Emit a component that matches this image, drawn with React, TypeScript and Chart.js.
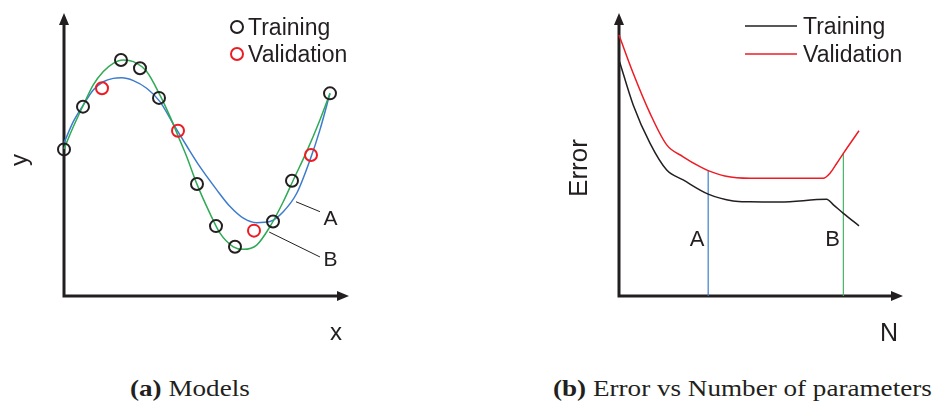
import React, { useEffect, useRef } from "react";
import { Chart, registerables } from "chart.js";

Chart.register(...registerables);

// ---------- (a) Models ----------
const trainX = [0, 1, 3, 4, 5, 7, 8, 9, 11, 12, 14];
const trainY = [5.18, 6.69, 8.34, 8.05, 7.0, 3.96, 2.47, 1.74, 2.63, 4.07, 7.16];
const validX = [2, 6, 10, 13];
const validY = [7.34, 5.84, 2.31, 4.98];

// smooth model A (blue)
const modelAX = [0, 0.49, 1.02, 1.54, 2.07, 2.59, 3.04, 3.65, 4.35, 5.05, 5.75, 6.46, 7.16, 8.04, 8.74, 9.44, 10.14, 10.84, 11.54, 12.25, 12.95, 13.47, 14];
const modelAY = [5.41, 6.16, 6.75, 7.28, 7.57, 7.69, 7.71, 7.61, 7.34, 6.87, 6.08, 5.3, 4.56, 3.75, 3.16, 2.75, 2.59, 2.63, 2.98, 3.63, 4.81, 5.87, 7.16];

// flexible model B (green)
const modelBX = [0, 0.49, 1.02, 1.54, 2.07, 2.59, 3.12, 3.65, 4.35, 5.05, 5.58, 6.02, 6.46, 6.98, 7.68, 8.21, 8.91, 9.44, 10.14, 10.84, 11.54, 12.07, 12.77, 13.47, 14];
const modelBY = [5.2, 5.98, 6.75, 7.46, 7.93, 8.22, 8.34, 8.28, 7.93, 7.1, 6.34, 5.63, 4.92, 3.98, 2.92, 2.22, 1.74, 1.65, 1.8, 2.45, 3.33, 4.1, 5.1, 6.22, 7.16];

// call-out lines and their letters: [fromX, fromY, toX, toY], label [x, y]
const calloutA = [12.21, 3.33, 13.47, 2.98];
const calloutB = [10.8, 2.26, 13.47, 1.38];
const calloutLabelA = [14.02, 2.77];
const calloutLabelB = [14.02, 1.31];

// ---------- (b) Error vs number of parameters ----------
const valErrX = [0, 0.5, 1.09, 1.68, 2.26, 2.85, 3.14, 3.73, 4.61, 5.67, 7.19, 7.43, 7.67, 7.9, 8.45];
const valErrY = [9.22, 7.87, 6.46, 5.34, 4.92, 4.57, 4.43, 4.24, 4.16, 4.16, 4.16, 4.34, 4.69, 5.04, 5.84];
const trnErrX = [0.02, 0.5, 1.09, 1.68, 2.26, 3.14, 4.02, 4.61, 5.67, 7.31, 7.55, 7.9, 8.45];
const trnErrY = [8.28, 6.75, 5.4, 4.45, 4.1, 3.6, 3.36, 3.33, 3.32, 3.42, 3.22, 2.92, 2.48];

// vertical markers where models A and B sit on the validation curve
const markerX = [3.14, 7.9];
const markerTop = [4.43, 5.04];
const markerNames = ["A", "B"];
const markerLabelY = 2.05;
const markerLabelDX = [-0.39, -0.38];

const INK = "#231f20";
const RED = "#ed1c24";
const BLUE = "#3d7ccc";
const GREEN = "#2faa55";
const SANS = "'Liberation Sans', Arial, sans-serif";

const pts = (xs: number[], ys: number[]) => xs.map((x, i) => ({ x, y: ys[i] }));

function drawAxes(ctx: CanvasRenderingContext2D, a: { left: number; right: number; top: number; bottom: number }) {
  const head = 12;
  const half = 5;
  ctx.save();
  ctx.strokeStyle = INK;
  ctx.fillStyle = INK;
  ctx.lineWidth = 3;
  ctx.beginPath();
  ctx.moveTo(a.left, a.bottom + 1.5);
  ctx.lineTo(a.left, a.top + head - 1);
  ctx.moveTo(a.left - 1.5, a.bottom);
  ctx.lineTo(a.right - head + 1, a.bottom);
  ctx.stroke();
  ctx.beginPath();
  ctx.moveTo(a.left, a.top);
  ctx.lineTo(a.left - half, a.top + head);
  ctx.lineTo(a.left + half, a.top + head);
  ctx.closePath();
  ctx.moveTo(a.right, a.bottom);
  ctx.lineTo(a.right - head, a.bottom - half);
  ctx.lineTo(a.right - head, a.bottom + half);
  ctx.closePath();
  ctx.fill();
  ctx.restore();
}

// writes text so that the middle of its capitals (or x-height) sits on y
function capText(ctx: CanvasRenderingContext2D, text: string, x: number, y: number, size: number, align: CanvasTextAlign, mid = 0.358) {
  ctx.save();
  ctx.font = `${size}px ${SANS}`;
  ctx.fillStyle = INK;
  ctx.textAlign = align;
  ctx.textBaseline = "alphabetic";
  ctx.fillText(text, x, y + mid * size);
  ctx.restore();
}

function rotText(ctx: CanvasRenderingContext2D, text: string, x: number, y: number, size: number, mid: number) {
  ctx.save();
  ctx.translate(x, y);
  ctx.rotate(-Math.PI / 2);
  ctx.font = `${size}px ${SANS}`;
  ctx.fillStyle = INK;
  ctx.textAlign = "center";
  ctx.textBaseline = "alphabetic";
  ctx.fillText(text, 0, mid * size);
  ctx.restore();
}

const panelADecor = {
  id: "panelADecor",
  beforeDatasetsDraw(chart: any) {
    drawAxes(chart.ctx, chart.chartArea);
  },
  afterDatasetsDraw(chart: any) {
    const ctx: CanvasRenderingContext2D = chart.ctx;
    const a = chart.chartArea;
    const sx = chart.scales.x;
    const sy = chart.scales.y;
    const px = (v: number) => sx.getPixelForValue(v);
    const py = (v: number) => sy.getPixelForValue(v);

    // call-outs
    ctx.save();
    ctx.strokeStyle = INK;
    ctx.lineWidth = 1;
    for (const c of [calloutA, calloutB]) {
      ctx.beginPath();
      ctx.moveTo(px(c[0]), py(c[1]));
      ctx.lineTo(px(c[2]), py(c[3]));
      ctx.stroke();
    }
    ctx.restore();
    capText(ctx, "A", px(calloutLabelA[0]), py(calloutLabelA[1]), 21, "center");
    capText(ctx, "B", px(calloutLabelB[0]), py(calloutLabelB[1]), 21, "center");

    // axis names
    rotText(ctx, "y", a.left - 41, 160, 24, 0.155);
    capText(ctx, "x", a.right - 13, 334, 24, "center", 0.26);

    // legend
    const lx = a.right - 112;
    const rows = [
      { y: a.top + 14, c: INK, t: "Training" },
      { y: a.top + 41, c: RED, t: "Validation" },
    ];
    for (const r of rows) {
      ctx.save();
      ctx.strokeStyle = r.c;
      ctx.lineWidth = 2;
      ctx.beginPath();
      ctx.arc(lx, r.y, 6, 0, Math.PI * 2);
      ctx.stroke();
      ctx.restore();
      capText(ctx, r.t, lx + 11, r.y, 23, "left");
    }
  },
};

const panelBDecor = {
  id: "panelBDecor",
  beforeDatasetsDraw(chart: any) {
    drawAxes(chart.ctx, chart.chartArea);
  },
  afterDatasetsDraw(chart: any) {
    const ctx: CanvasRenderingContext2D = chart.ctx;
    const a = chart.chartArea;
    const sx = chart.scales.x;
    const sy = chart.scales.y;

    markerNames.forEach((n, i) => {
      capText(ctx, n, sx.getPixelForValue(markerX[i] + markerLabelDX[i]), sy.getPixelForValue(markerLabelY), 22, "center");
    });

    rotText(ctx, "Error", a.left - 41, 168, 26, 0.358);
    capText(ctx, "N", a.right - 14, 332, 25, "center");

    const rows = [
      { y: a.top + 13, c: INK, t: "Training" },
      { y: a.top + 41, c: RED, t: "Validation" },
    ];
    for (const r of rows) {
      ctx.save();
      ctx.strokeStyle = r.c;
      ctx.lineWidth = 1.5;
      ctx.beginPath();
      ctx.moveTo(a.right - 158, r.y);
      ctx.lineTo(a.right - 106, r.y);
      ctx.stroke();
      ctx.restore();
      capText(ctx, r.t, a.right - 100, r.y, 23, "left");
    }
  },
};

const hiddenScales = (xMax: number) => ({
  x: { type: "linear" as const, min: 0, max: xMax, display: false },
  y: { type: "linear" as const, min: 0, max: 10, display: false },
});

const curve = (data: { x: number; y: number }[], color: string, width = 1.5) => ({
  data,
  showLine: true,
  borderColor: color,
  borderWidth: width,
  pointRadius: 0,
  cubicInterpolationMode: "monotone" as const,
  fill: false,
  clip: false as const,
});

const circles = (data: { x: number; y: number }[], color: string) => ({
  data,
  showLine: false,
  pointStyle: "circle" as const,
  pointRadius: 6,
  pointBorderWidth: 2,
  pointBorderColor: color,
  pointBackgroundColor: "rgba(0,0,0,0)",
  clip: false as const,
});

function makeModels(canvas: HTMLCanvasElement) {
  return new Chart(canvas, {
    type: "scatter",
    data: {
      datasets: [
        circles(pts(trainX, trainY), INK),
        circles(pts(validX, validY), RED),
        curve(pts(modelBX, modelBY), GREEN),
        curve(pts(modelAX, modelAY), BLUE),
      ] as any,
    },
    options: {
      responsive: false,
      animation: false,
      devicePixelRatio: 1,
      layout: { padding: { left: 64, top: 13, right: 118, bottom: 64 } },
      scales: hiddenScales(15),
      plugins: { legend: { display: false }, tooltip: { enabled: false } },
      events: [],
    },
    plugins: [panelADecor],
  });
}

function makeError(canvas: HTMLCanvasElement) {
  const markers = markerX.map((x, i) => ({
    data: [
      { x, y: 0 },
      { x, y: markerTop[i] },
    ],
    showLine: true,
    borderColor: i === 0 ? BLUE : "#46b566",
    borderWidth: 1.2,
    pointRadius: 0,
    clip: false as const,
  }));
  return new Chart(canvas, {
    type: "scatter",
    data: {
      datasets: [
        curve(pts(valErrX, valErrY), RED),
        curve(pts(trnErrX, trnErrY), INK),
        ...markers,
      ] as any,
    },
    options: {
      responsive: false,
      animation: false,
      devicePixelRatio: 1,
      layout: { padding: { left: 152, top: 13, right: 31, bottom: 64 } },
      scales: hiddenScales(10),
      plugins: { legend: { display: false }, tooltip: { enabled: false } },
      events: [],
    },
    plugins: [panelBDecor],
  });
}

function ChartCanvas({ make, left }: { make: (c: HTMLCanvasElement) => Chart; left: number }) {
  const ref = useRef<HTMLCanvasElement>(null);
  useEffect(() => {
    const chart = make(ref.current as HTMLCanvasElement);
    return () => chart.destroy();
  }, [make]);
  return (
    <canvas
      ref={ref}
      width={467}
      height={360}
      style={{ position: "absolute", left, top: 0, width: 467, height: 360 }}
    />
  );
}

const captionStyle = (left: number): React.CSSProperties => ({
  position: "absolute",
  left,
  top: 376,
  fontFamily: "'Liberation Serif', 'Times New Roman', serif",
  fontSize: 24,
  lineHeight: "24px",
  color: INK,
  whiteSpace: "nowrap",
  transform: "scaleX(1.13)",
  transformOrigin: "left top",
});

export default function App() {
  return (
    <div
      style={{
        position: "fixed",
        left: 0,
        top: 0,
        width: 934,
        height: 404,
        background: "#ffffff",
        overflow: "hidden",
      }}
    >
      <ChartCanvas make={makeModels} left={0} />
      <ChartCanvas make={makeError} left={467} />
      <div style={captionStyle(130)}>
        <b>(a)</b> Models
      </div>
      <div style={captionStyle(553)}>
        <b>(b)</b> Error vs Number of parameters
      </div>
    </div>
  );
}
